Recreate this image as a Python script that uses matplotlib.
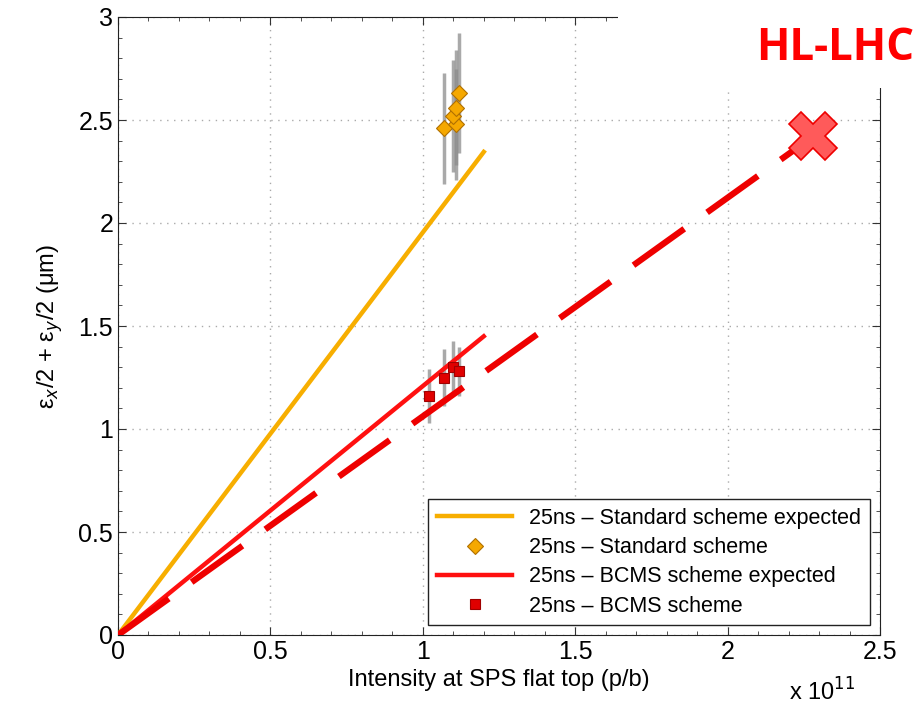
import matplotlib
matplotlib.use("Agg")
import matplotlib.pyplot as plt
from matplotlib.patches import Rectangle
from matplotlib.ticker import MultipleLocator

# Data (intensity in units of 1e11 p/b, emittance in um)
expected_x = [0.0, 1.2]
std_expected_y = [0.0, 2.345]
bcms_expected_y = [0.0, 1.45]

std_x = [1.07, 1.11, 1.10, 1.11, 1.12]
std_y = [2.46, 2.48, 2.52, 2.56, 2.63]
std_err = [0.27, 0.27, 0.27, 0.28, 0.29]

bcms_x = [1.02, 1.07, 1.10, 1.12]
bcms_y = [1.16, 1.25, 1.30, 1.28]
bcms_err = [0.13, 0.14, 0.125, 0.12]

hllhc_x = [0.0, 2.28]
hllhc_y = [0.0, 2.42]

plt.rcParams['font.family'] = ['Liberation Sans', 'DejaVu Sans']

fig = plt.figure(figsize=(9.22, 7.18), dpi=100)
ax = fig.add_axes([118/922, 1-635/718, (880-118)/922, (635-17)/718])

ax.plot(expected_x, std_expected_y, color='#f7ae00', lw=3.2, label='25ns – Standard scheme expected', zorder=3)
ax.errorbar(std_x, std_y, yerr=std_err, fmt='none', ecolor='#8c8c8c', elinewidth=2.5, alpha=0.75, zorder=2)
ax.plot(std_x, std_y, ls='none', marker='D', ms=8, mfc='#f5a800', mec='#b07000', mew=0.8,
        label='25ns – Standard scheme', zorder=4)
ax.plot(expected_x, bcms_expected_y, color='#ff1010', lw=3.2, label='25ns – BCMS scheme expected', zorder=3)
ax.errorbar(bcms_x, bcms_y, yerr=bcms_err, fmt='none', ecolor='#8c8c8c', elinewidth=2.5, alpha=0.75, zorder=2)
ax.plot(bcms_x, bcms_y, ls='none', marker='s', ms=7, mfc='#e00000', mec='#a00000', mew=0.8,
        label='25ns – BCMS scheme', zorder=4)

ax.plot(hllhc_x, hllhc_y, color='#ee0000', lw=4.5, dashes=(10, 4.5), zorder=5)
ax.plot(hllhc_x[-1:], hllhc_y[-1:], ls='none', marker='X', ms=34, mfc='#ff5a5a', mec='#ee0000', mew=1.2, zorder=6,
        clip_on=False)

ax.set_xlim(0, 2.5)
ax.set_ylim(0, 3)
ax.xaxis.set_major_locator(MultipleLocator(0.5))
ax.yaxis.set_major_locator(MultipleLocator(0.5))
ax.xaxis.set_minor_locator(MultipleLocator(0.1))
ax.yaxis.set_minor_locator(MultipleLocator(0.1))
ax.tick_params(which='both', direction='in', top=True, right=True, labelsize=18, color='#333333')
ax.tick_params(which='major', length=6)
ax.tick_params(which='minor', length=3)
ax.xaxis.set_major_formatter(matplotlib.ticker.FuncFormatter(lambda v, p: f"{v:g}"))
ax.yaxis.set_major_formatter(matplotlib.ticker.FuncFormatter(lambda v, p: f"{v:g}"))
ax.grid(True, which='major', ls=(0, (1, 4)), color='#aaaaaa', lw=1)
for s in ax.spines.values():
    s.set_color('#222222')

ax.set_xlabel('Intensity at SPS flat top (p/b)', fontsize=17, labelpad=4)
ax.set_ylabel('ε$_x$/2 + ε$_y$/2 (μm)', fontsize=17, labelpad=10)

leg = ax.legend(loc='lower right', bbox_to_anchor=(0.987, 0.016), fontsize=15.5, frameon=True,
                fancybox=False, edgecolor='#222222', handlelength=3.5, borderpad=0.4,
                labelspacing=0.38, framealpha=1, borderaxespad=0)
leg.get_frame().set_linewidth(1)

fig.text(822/922, 1-692/718, 'x 10$^{11}$', fontsize=17, ha='center', va='center')

# White overlay covering the top right corner and label
fig.patches.append(Rectangle((618/922, 1-88/718), 1, 88/718, transform=fig.transFigure,
                             facecolor='white', edgecolor='none', zorder=10))
fig.text(835/922, 1-48/718, 'HL-LHC', fontsize=31.5, fontweight='bold', color='#ff0000',
         ha='center', va='center', family=['Open Sans', 'DejaVu Sans'], zorder=11)

fig.savefig('out.png', dpi=100)
